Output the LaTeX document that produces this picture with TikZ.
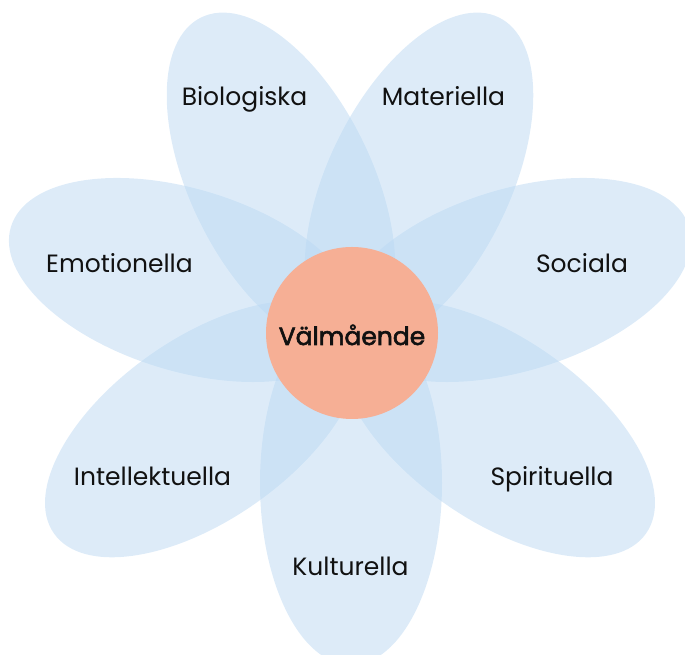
\documentclass[tikz,border=0pt]{standalone}
\usepackage{fontspec}
\setmainfont{Poppins}
\newfontfamily\medfont[FakeBold=2.4]{Poppins}
\usetikzlibrary{shapes.geometric}
\definecolor{petalblue}{HTML}{BBD8F2}
\definecolor{centersalmon}{HTML}{F6AF95}
\definecolor{ink}{HTML}{111111}
\begin{document}
\begin{tikzpicture}[x=1pt,y=1pt,
  petal/.style={ellipse, draw=none, fill=petalblue, fill opacity=0.5,
    minimum width=364pt, minimum height=182pt, inner sep=0pt},
  lbl/.style={anchor=base, text=ink, font=\fontsize{25}{30}\selectfont, inner sep=0pt},
  core/.style={circle, fill=centersalmon, draw=none, minimum size=172pt, inner sep=0pt}]
\useasboundingbox (0,0) rectangle (685,655);
\node[petal, rotate=116] (pbio) at (281,474) {};
\node[petal, rotate=64]  (pmat) at (419,474) {};
\node[petal, rotate=17]  (psoc) at (515,375) {};
\node[petal, rotate=-35] (pspi) at (497,226) {};
\node[petal, rotate=90]  (pkul) at (351,172) {};
\node[petal, rotate=35]  (pint) at (203,226) {};
\node[petal, rotate=-17] (pemo) at (185,375) {};
\node[core] (center) at (352,322) {};
\node[lbl, font=\medfont\fontsize{25}{30}\selectfont] (tval) at (352,310) {Välmående};
\node[lbl] (tbio) at (244.5,549) {Biologiska};
\node[lbl] (tmat) at (443.5,549) {Materiella};
\node[lbl] (temo) at (119.5,382) {Emotionella};
\node[lbl] (tsoc) at (582,382) {Sociala};
\node[lbl] (tint) at (152.5,169) {Intellektuella};
\node[lbl] (tspi) at (552,169) {Spirituella};
\node[lbl] (tkul) at (350.5,79) {Kulturella};
\end{tikzpicture}
\end{document}
